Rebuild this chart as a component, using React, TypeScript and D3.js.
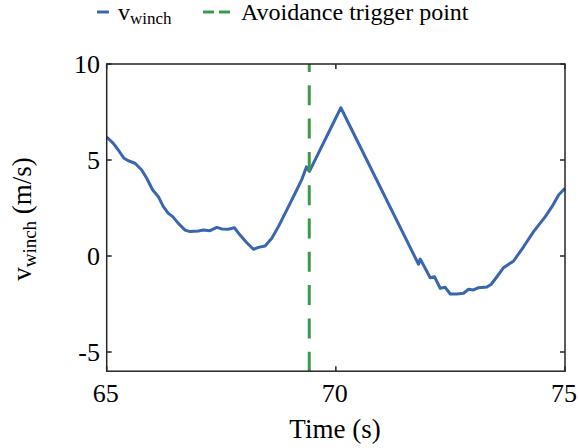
import * as d3 from "d3";

// winch speed samples (time in s, speed in m/s)
const TIME = [
  65.0, 65.144, 65.253, 65.378, 65.472, 65.618, 65.764, 65.873, 66.004, 66.127,
  66.236, 66.345, 66.441, 66.563, 66.71, 66.819, 67.0, 67.109, 67.255, 67.402,
  67.511, 67.655, 67.786, 67.91, 68.057, 68.201, 68.31, 68.456, 68.603, 68.747,
  68.93, 69.111, 69.258, 69.358, 69.424, 70.109, 71.804, 71.841, 71.95, 72.059,
  72.153, 72.277, 72.386, 72.496, 72.642, 72.786, 72.895, 73.004, 73.114, 73.297,
  73.391, 73.515, 73.659, 73.878, 74.096, 74.314, 74.57, 74.716, 74.86, 75.0,
];
const V_WINCH = [
  6.2, 5.87, 5.52, 5.09, 4.96, 4.83, 4.48, 4.05, 3.44, 3.09,
  2.57, 2.22, 2.05, 1.7, 1.35, 1.27, 1.3, 1.35, 1.32, 1.49,
  1.41, 1.39, 1.47, 1.09, 0.69, 0.35, 0.45, 0.52, 0.92, 1.53,
  2.4, 3.27, 3.99, 4.64, 4.41, 7.72, -0.43, -0.16, -0.64, -1.13,
  -1.08, -1.68, -1.63, -1.98, -1.98, -1.94, -1.73, -1.77, -1.65, -1.61,
  -1.47, -1.08, -0.61, -0.26, 0.48, 1.27, 2.05, 2.57, 3.18, 3.53,
];
const TRIGGER_TIME = 69.42;

const X_TICKS = [65, 70, 75];
const Y_TICKS = [-5, 0, 5, 10];

const W = 579;
const H = 448;
const FONT = "'Liberation Serif', 'Times New Roman', serif";
const AXIS = "#262626";
const BLUE = "#3a66b0";
const GREEN = "#3c9b4a";

export default function App() {
  const x = d3.scaleLinear().domain([65, 75]).range([106.7, 565]);
  const y = d3.scaleLinear().domain([-6, 10]).range([371.2, 64]);
  const [x0, x1] = x.range();
  const [y0, y1] = y.range();
  const tick = 5;

  const pts = TIME.map((t, i) => [t, V_WINCH[i]] as [number, number]);
  const line = d3
    .line<[number, number]>()
    .x((d) => x(d[0]))
    .y((d) => y(d[1]));

  return (
    <svg
      width={W}
      height={H}
      style={{ position: "absolute", left: 0, top: 0, background: "#fff" }}
      fontFamily={FONT}
    >
      {/* legend */}
      <line x1={97} x2={109} y1={12} y2={12} stroke={BLUE} strokeWidth={3} />
      <text x={118} y={20} fontSize={24} fill="#000">
        v
        <tspan fontSize={17} dy={4}>
          winch
        </tspan>
      </text>
      <line
        x1={203}
        x2={232}
        y1={12}
        y2={12}
        stroke={GREEN}
        strokeWidth={3}
        strokeDasharray="11,5"
      />
      <text x={241} y={20} fontSize={24} fill="#000">
        Avoidance trigger point
      </text>

      {/* data */}
      <path
        d={line(pts) ?? ""}
        fill="none"
        stroke={BLUE}
        strokeWidth={3}
        strokeLinejoin="round"
      />
      <line
        x1={x(TRIGGER_TIME)}
        x2={x(TRIGGER_TIME)}
        y1={y1}
        y2={y0}
        stroke={GREEN}
        strokeWidth={3}
        strokeDasharray="20,13.3"
        strokeDashoffset={12}
      />

      {/* box + ticks */}
      <rect
        x={x0}
        y={y1}
        width={x1 - x0}
        height={y0 - y1}
        fill="none"
        stroke={AXIS}
        strokeWidth={1.5}
      />
      {X_TICKS.map((t) => (
        <g key={"x" + t}>
          <line x1={x(t)} x2={x(t)} y1={y0} y2={y0 - tick} stroke={AXIS} strokeWidth={1.5} />
          <line x1={x(t)} x2={x(t)} y1={y1} y2={y1 + tick} stroke={AXIS} strokeWidth={1.5} />
          <text x={x(t) - 1} y={402} fontSize={26} textAnchor="middle" fill="#000">
            {t}
          </text>
        </g>
      ))}
      {Y_TICKS.map((v) => (
        <g key={"y" + v}>
          <line x1={x0} x2={x0 + tick} y1={y(v)} y2={y(v)} stroke={AXIS} strokeWidth={1.5} />
          <line x1={x1} x2={x1 - tick} y1={y(v)} y2={y(v)} stroke={AXIS} strokeWidth={1.5} />
          <text x={100} y={y(v) + 9} fontSize={26} textAnchor="end" fill="#000">
            {v}
          </text>
        </g>
      ))}

      {/* axis titles */}
      <text x={335} y={438} fontSize={27} textAnchor="middle" fill="#000">
        Time (s)
      </text>
      <text
        transform={`translate(31,219) rotate(-90)`}
        fontSize={27}
        textAnchor="middle"
        fill="#000"
      >
        v
        <tspan fontSize={19} dy={5}>
          winch
        </tspan>
        <tspan dy={-5}> (m/s)</tspan>
      </text>
    </svg>
  );
}
